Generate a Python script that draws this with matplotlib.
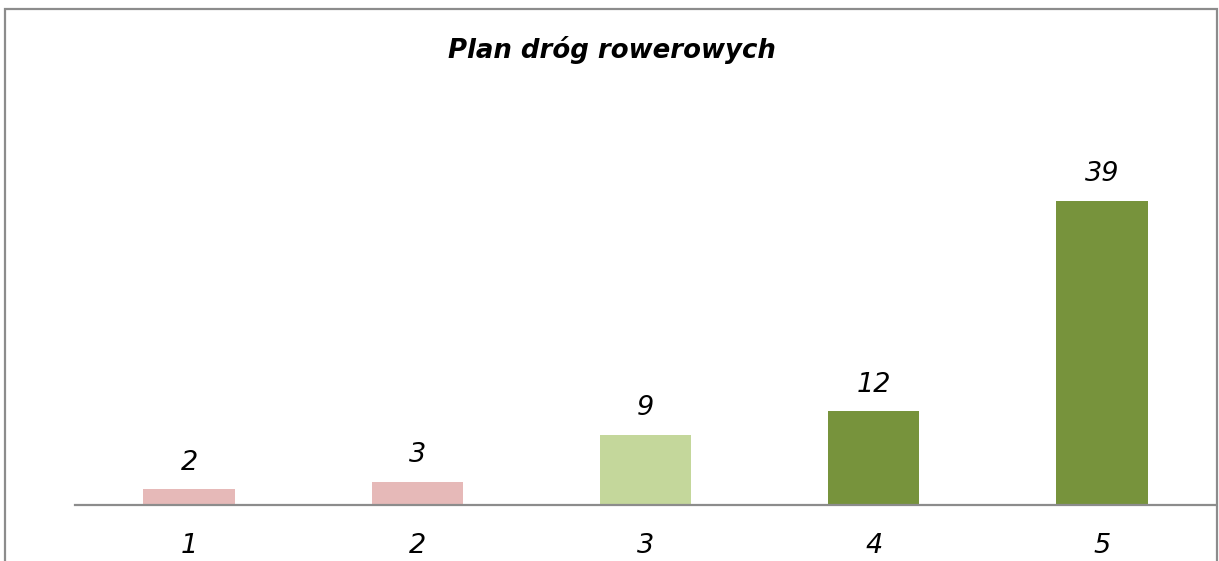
import matplotlib.pyplot as plt
from matplotlib.patches import Rectangle

# dane wykresu
kategorie = ['1', '2', '3', '4', '5']
wartosci = [2, 3, 9, 12, 39]
kolory = ['#E6B9B8', '#E6B9B8', '#C4D79B', '#77933C', '#77933C']

plt.rcParams['font.family'] = ['DejaVu Sans']

fig = plt.figure(figsize=(12.19, 5.61), dpi=100)
ax = fig.add_axes([75 / 1219, 56 / 561, 1141 / 1219, 390 / 561])

pozycje = list(range(1, len(kategorie) + 1))
slupki = ax.bar(pozycje, wartosci, width=0.4, color=kolory)

for x, v in zip(pozycje, wartosci):
    ax.annotate(str(v), (x, v), xytext=(0, 10), textcoords='offset points',
                ha='center', va='bottom', fontsize=19.5, fontstyle='italic')

ax.set_xlim(0.5, 5.5)
ax.set_ylim(0, 50)
ax.set_xticks(pozycje)
ax.set_xticklabels(kategorie, fontsize=19.5, fontstyle='italic')
ax.tick_params(axis='x', length=0, pad=20)
ax.set_yticks([])
for s in ['top', 'left', 'right']:
    ax.spines[s].set_visible(False)
ax.spines['bottom'].set_color('#8c8c8c')
ax.spines['bottom'].set_linewidth(1.6)

fig.text(612 / 1219, 1 - 50 / 561, 'Plan dróg rowerowych', ha='center', va='center',
         fontsize=18.7, fontweight='bold', fontstyle='italic')

# ramka wykresu
ramka = Rectangle((4.5 / 1219, -0.1), 1212 / 1219, 1.1 - 8.5 / 561, transform=fig.transFigure,
                  fill=False, edgecolor='#8c8c8c', linewidth=1.6)
fig.patches.append(ramka)

fig.savefig('out.png', dpi=100)
